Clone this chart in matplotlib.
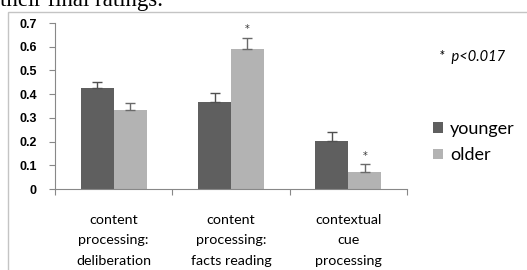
import matplotlib
matplotlib.use("Agg")
import matplotlib.pyplot as plt
from matplotlib.patches import Rectangle

# data
categories = ["content\nprocessing:\ndeliberation",
              "content\nprocessing:\nfacts reading",
              "contextual\ncue\nprocessing"]
younger = [0.426, 0.367, 0.203]
younger_err = [0.024, 0.038, 0.037]
older = [0.333, 0.590, 0.072]
older_err = [0.030, 0.047, 0.033]
significant = [False, True, True]   # older vs younger
yticks = [0, 0.1, 0.2, 0.3, 0.4, 0.5, 0.6, 0.7]

c_young = "#5f5f5f"
c_old = "#b3b3b3"
W, H = 527, 270

fig = plt.figure(figsize=(W / 100, H / 100), dpi=100)

# snippet of document text cut off above the chart
fig.text(0.0, 1 - 6 / H, "their final ratings.", family="Liberation Serif",
         fontsize=16.5, va="baseline", ha="left")

# chart frame (only left and top edges are visible)
fig.add_artist(Rectangle((8 / W, -0.1), 1.2, 1 - 12 / H + 0.1,
                         transform=fig.transFigure, fill=False,
                         edgecolor="#c4c4c4", lw=1.0))

ax = fig.add_axes([55 / W, 81 / H, 352 / W, 166 / H])
x = list(range(len(categories)))
bw = 0.28
xl = [i - bw / 2 for i in x]
xr = [i + bw / 2 for i in x]

ax.bar(xl, younger, bw, color=c_young, label="younger")
ax.bar(xr, older, bw, color=c_old, label="older")
ax.errorbar(xl, younger, yerr=[[0] * 3, younger_err], fmt="none",
            ecolor="#505050", elinewidth=1, capsize=3.5)
ax.errorbar(xr, older, yerr=[[0] * 3, older_err], fmt="none",
            ecolor="#6a6a6a", elinewidth=1, capsize=3.5)
for xi, v, e, s in zip(xr, older, older_err, significant):
    if s:
        ax.text(xi, v + e + 0.015, "*", ha="center", va="bottom",
                fontsize=7, color="#333333")

ax.set_xlim(-0.5, 2.5)
ax.set_ylim(0, 0.7)
ax.set_yticks(yticks)
ax.set_yticklabels([f"{t:g}" for t in yticks], fontweight="bold",
                   family="Liberation Sans", fontsize=9)
ax.tick_params(axis="y", length=4, color="#888888", pad=9)

ax.set_xticks([-0.5, 0.5, 1.5, 2.5])
ax.set_xticklabels([])
ax.tick_params(axis="x", which="major", length=4, color="#888888")
ax.set_xticks(x, minor=True)
ax.set_xticklabels(categories, minor=True, family="Lato", fontsize=10.3,
                   linespacing=1.85)
ax.tick_params(axis="x", which="minor", length=0, pad=18)

for s in ["top", "right"]:
    ax.spines[s].set_visible(False)
for s in ["left", "bottom"]:
    ax.spines[s].set_color("#888888")

fig.text(439 / W, 1 - 57 / H, "*  p<0.017", family="Lato", style="italic",
         fontsize=10.5, va="center", ha="left")

ax.legend(loc="center left", bbox_to_anchor=(424 / W, 1 - 142 / H),
          bbox_transform=fig.transFigure, frameon=False,
          prop={"family": "Lato", "size": 13}, handlelength=0.55,
          handleheight=0.55, handletextpad=0.4, labelspacing=0.6,
          borderpad=0)

fig.savefig("out.png", dpi=100)
